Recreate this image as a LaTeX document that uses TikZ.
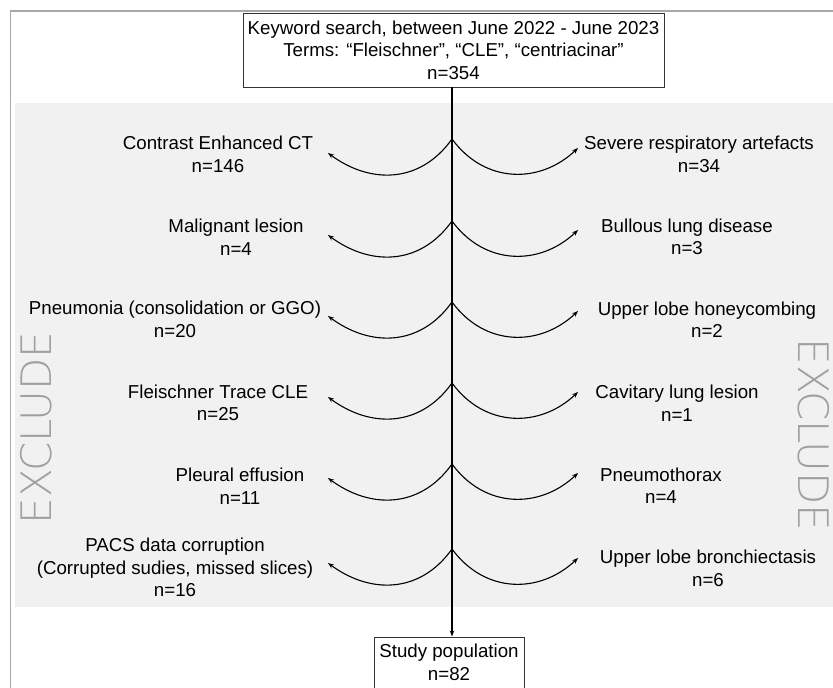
\documentclass[tikz,border=0pt]{standalone}
\usepackage{fontspec}
\setmainfont{Liberation Sans}
\newfontfamily\thinfont{DejaVu Sans ExtraLight}
\usetikzlibrary{arrows.meta}
\definecolor{panel}{HTML}{F0F1F0}
\definecolor{framec}{HTML}{A8A8A8}
\definecolor{exclc}{HTML}{A0A0A0}
\begin{document}
\begin{tikzpicture}[x=1pt,y=-1pt,
  every node/.style={font=\fontsize{18.7}{22.5}\selectfont},
  lbl/.style={align=center, inner sep=0pt},
  boxnode/.style={draw=black!80, line width=0.9pt, align=center, inner sep=0pt},
  curvec/.style={line width=1.1pt, -{Stealth[length=6pt,width=4.5pt]}},
  mainline/.style={line width=1.1pt},
  excltext/.style={text=exclc, font=\thinfont\fontsize{42}{42}\selectfont, inner sep=0pt}]
\useasboundingbox (0,0) rectangle (833,688);
\fill[panel] (15,103) rectangle (833,607);
\draw[framec, line width=1.8pt] (10.5,688) -- (10.5,11) -- (833,11);

\node[boxnode, minimum width=421pt, minimum height=74pt] (top) at (453.5,50)
  {Keyword search, between June 2022 - June 2023\\Terms: “Fleischner”, “CLE”, “centriacinar”\\n=354};
\node[boxnode, minimum width=150pt, minimum height=51pt] (study) at (449,662.5)
  {Study population\\n=82};

\foreach \y/\i in {139/1,221/2,302/3,383/4,464/5,549/6}{
  \coordinate (j\i) at (452,\y);
  \coordinate (lt\i) at (328,\y+14);
  \coordinate (rt\i) at (578,\y+9);
}
\draw[mainline, -{Stealth[length=6pt,width=4.5pt]}] (top.south -| j1) -- (study.north -| j1);
\foreach \y/\i in {139/1,221/2,302/3,383/4,464/5,549/6}{
  \draw[curvec] (j\i) .. controls (420,\y+45) and (370,\y+45) .. (lt\i);
  \draw[curvec] (j\i) .. controls (485,\y+45) and (540,\y+45) .. (rt\i);
}

\node[lbl] (l1) at (218,154.5) {Contrast Enhanced CT\\n=146};
\node[lbl] (l2) at (236,237) {Malignant lesion\\n=4};
\node[lbl] (l3) at (175,319.5) {Pneumonia (consolidation or GGO)\\n=20};
\node[lbl] (l4) at (218,403) {Fleischner Trace CLE\\n=25};
\node[lbl] (l5) at (240,486) {Pleural effusion\\n=11};
\node[lbl] (l6) at (175,567.5) {PACS data corruption\\(Corrupted sudies, missed slices)\\n=16};

\node[lbl] (r1) at (699,154.5) {Severe respiratory artefacts\\n=34};
\node[lbl] (r2) at (687,237) {Bullous lung disease\\n=3};
\node[lbl] (r3) at (707,319.5) {Upper lobe honeycombing\\n=2};
\node[lbl] (r4) at (677,403) {Cavitary lung lesion\\n=1};
\node[lbl] (r5) at (661,485.5) {Pneumothorax\\n=4};
\node[lbl] (r6) at (708,568.5) {Upper lobe bronchiectasis\\n=6};

\node[excltext, rotate=90] (exl) at (36,428) {EXCLUDE};
\node[excltext, rotate=-90] (exr) at (814,435) {EXCLUDE};
\end{tikzpicture}
\end{document}
